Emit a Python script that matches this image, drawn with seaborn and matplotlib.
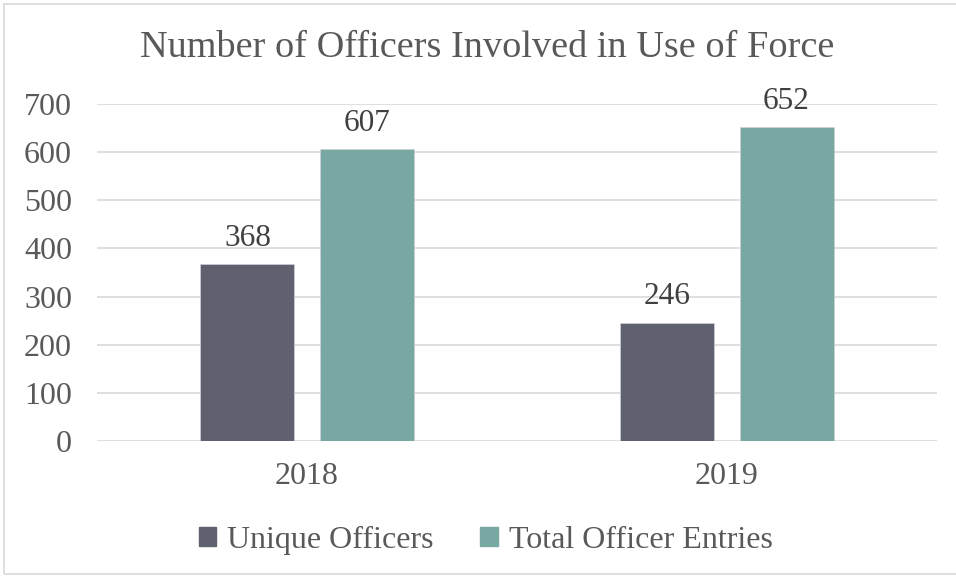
import pandas as pd
import matplotlib.pyplot as plt
import matplotlib.patches as mpatches
import seaborn as sns

sns.set_theme(style="white")
plt.rcParams['font.family'] = ['Liberation Serif', 'DejaVu Serif']

# Data
years = ['2018', '2019']
unique_officers = [368, 246]
total_entries = [607, 652]
series_names = ['Unique Officers', 'Total Officer Entries']
colors = ['#5f6170', '#79a8a3']
text_color = '#595959'

df = pd.DataFrame({
    'Year': years * 2,
    'Count': unique_officers + total_entries,
    'Series': [series_names[0]] * len(years) + [series_names[1]] * len(years),
})

fig = plt.figure(figsize=(9.56, 5.77), dpi=100)
ax = fig.add_axes([97 / 956, 1 - 441 / 577, 840 / 956, 337 / 577])

sns.barplot(data=df, x='Year', y='Count', hue='Series', palette=colors,
            saturation=1, width=0.567, gap=0.21, ax=ax, legend=False,
            zorder=3, edgecolor='#d0d0d8', linewidth=0.5)

for c in ax.containers:
    ax.bar_label(c, fontsize=22.5, color='#404040', padding=8)

ax.set_ylim(0, 700)
ax.set_yticks(range(0, 701, 100))
ax.grid(axis='y', color='#d9d9d9', linewidth=1.2, zorder=0)
ax.grid(axis='x', visible=False)
for s in ax.spines.values():
    s.set_visible(False)
ax.tick_params(axis='both', length=0, labelsize=23, labelcolor=text_color)
ax.tick_params(axis='x', pad=15)
ax.tick_params(axis='y', pad=18)
ax.set_xlabel('')
ax.set_ylabel('')

fig.text(0.51, 1 - 48 / 577, 'Number of Officers Involved in Use of Force',
         ha='center', va='center', fontsize=27.5, color=text_color)

handles = [mpatches.Patch(color=c, label=n) for c, n in zip(colors, series_names)]
fig.legend(handles=handles, loc='center', bbox_to_anchor=(0.508, 1 - 540 / 577),
           ncol=2, frameon=False, fontsize=23, labelcolor=text_color,
           handlelength=0.55, handleheight=0.55, handletextpad=0.35, columnspacing=1.45)

# light border round the chart area
fig.patches.append(mpatches.Rectangle((4 / 956, 3 / 577), 1.0, 1 - 7 / 577,
                                      transform=fig.transFigure, fill=False,
                                      edgecolor='#d9d9d9', linewidth=1.2))

fig.savefig('out.png', dpi=100)
